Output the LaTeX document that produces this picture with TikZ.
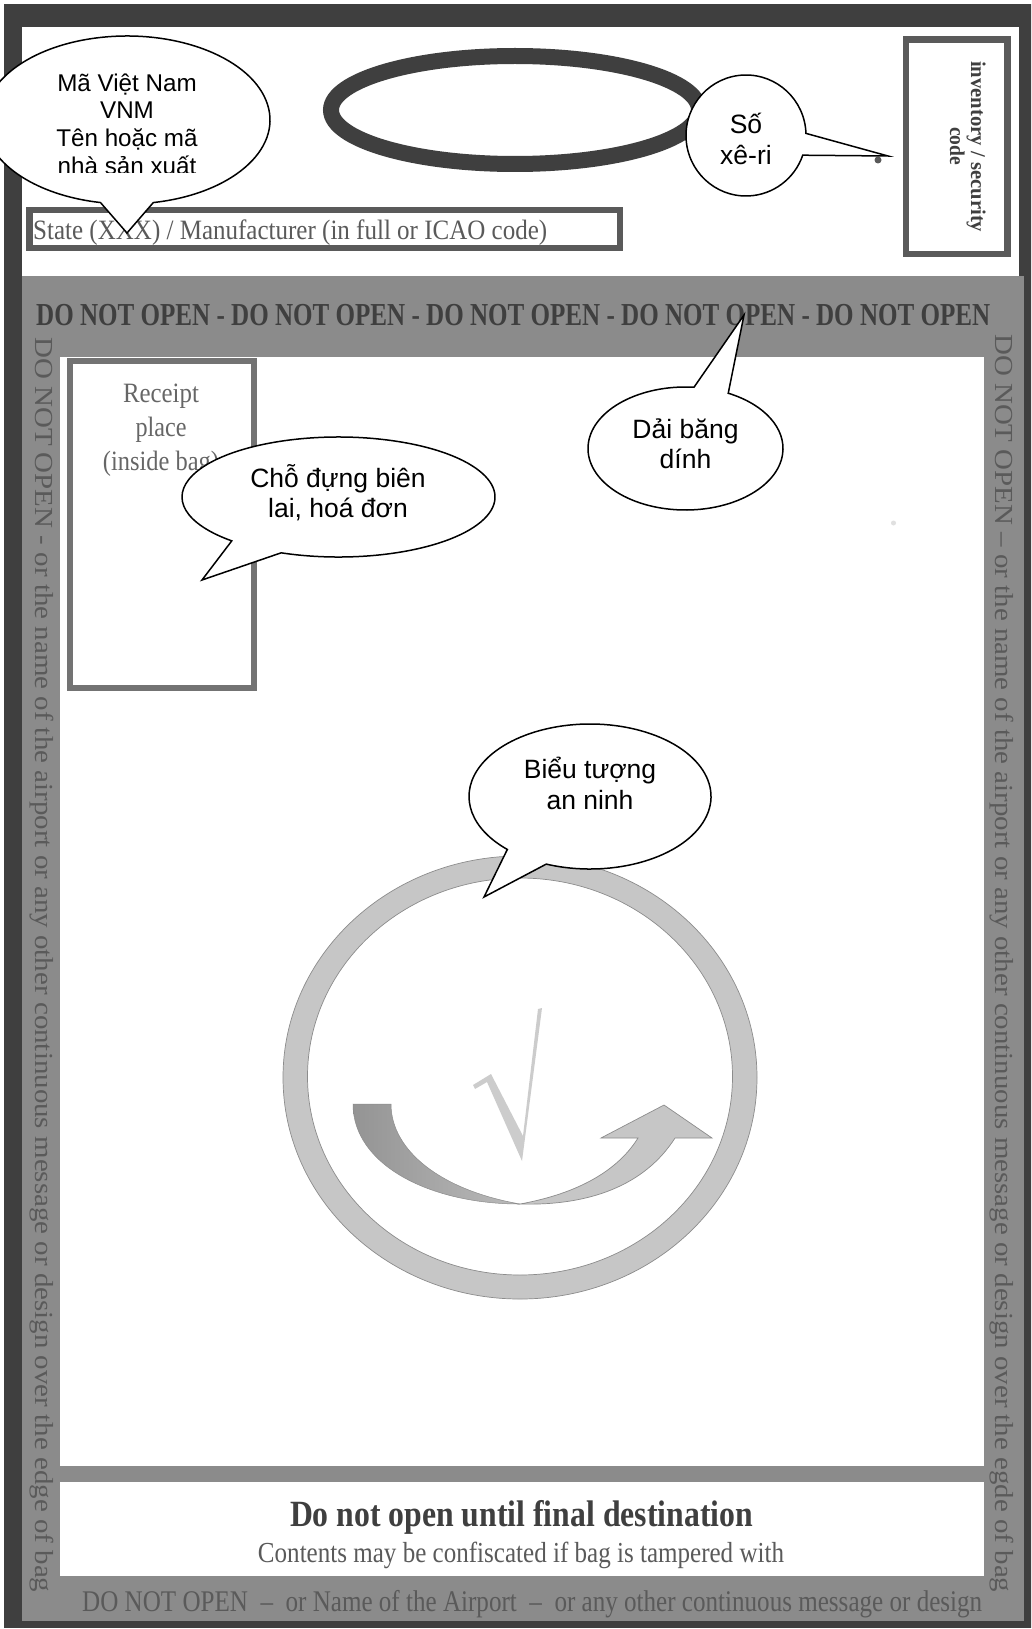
\documentclass[tikz,border=0pt]{standalone}
\usepackage{fontspec}
\setmainfont{Liberation Serif}
\newfontfamily\callfont{Liberation Sans}
\definecolor{frame}{HTML}{3F3F3F}
\definecolor{band}{HTML}{8B8B8B}
\definecolor{boxline}{HTML}{5A5A5A}
\definecolor{ringfill}{HTML}{C6C6C6}
\definecolor{ringline}{HTML}{8C8C8C}
\newcommand{\fitw}[3]{\resizebox{#1pt}{\height}{\fontsize{#2}{#2}\selectfont #3}}
\newcommand{\speech}[9]{%
  \coordinate (#1-c) at (#2,#3);%
  \coordinate (#1-tip) at (#8,#9);%
  \draw[bubble] ([shift={(#6:#4 and #5)}]#1-c) arc[start angle=#6,end angle=#7,x radius=#4,y radius=#5] -- (#1-tip) -- cycle;%
}
\tikzset{
  x=1pt,y=1pt,
  bubble/.style={draw=black,fill=white,line width=1.5pt,line join=miter},
  calltext/.style 2 args={font=\callfont\fontsize{#1}{#2}\selectfont,align=center,inner sep=0pt,text=black},
  serif/.style={inner sep=0pt,anchor=base west,text=#1},
  rserif/.style={inner sep=0pt,anchor=base west,rotate=-90,text=#1},
  cserif/.style={inner sep=0pt,anchor=base,text=#1},
  whitepanel/.style={fill=white,draw=none},
  ringpart/.style={fill=ringfill,draw=ringline,line width=0.7pt},
}
\begin{document}%
\begin{tikzpicture}
\useasboundingbox (0,-1629) rectangle (1031,0);
\clip (0,-1629) rectangle (1031,0);
\fill[white] (0,-1629) rectangle (1033,0);
% dark frame
\fill[frame] (4,-1628) rectangle (1033,-4);
\fill[whitepanel] (22,-276) rectangle (1019,-27);
% grey band
\fill[band] (22,-1621) rectangle (1024,-276);
\fill[whitepanel] (60,-1466) rectangle (984,-357);
\fill[whitepanel] (60,-1576) rectangle (984,-1482);
% top ellipse
\draw[frame,line width=16pt] (515,-110) ellipse [x radius=184,y radius=54];
% manufacturer box
\draw[boxline,line width=6.5pt,fill=white] (29.5,-248) rectangle (620,-210);
\node[serif=boxline] (state) at (33,-240) {\fitw{514}{28}{State (XXX) / Manufacturer (in full or ICAO code)}};
% inventory box
\draw[boxline,line width=6.5pt,fill=white] (906,-254) rectangle (1007.5,-39.5);
\node[rserif=frame] (inv1) at (971,-61) {\fitw{171}{21}{\bfseries inventory / security}};
\node[rserif=frame] (inv2) at (950,-127) {\fitw{38}{21}{\bfseries code}};
\fill[boxline] (878,-160) circle [radius=3.5];
\fill[black!12] (893.5,-523) circle [radius=2.5];
% band texts
\node[serif=frame] (bandtop) at (36,-325) {\fitw{954}{32}{\bfseries DO NOT OPEN - DO NOT OPEN - DO NOT OPEN - DO NOT OPEN - DO NOT OPEN}};
\node[rserif=boxline] (bandleft) at (35,-337) {\fitw{1255}{26}{DO NOT OPEN - or the name of the airport or any other continuous message or design over the edge of bag}};
\node[rserif=boxline] (bandright) at (995,-334) {\fitw{1258}{26}{DO NOT OPEN -- or the name of the airport or any other continuous message or design over the egde of bag}};
\node[serif=boxline] (bandbottom) at (82,-1611) {\fitw{900}{30}{DO NOT OPEN\ \ --\ \ or Name of the Airport\ \ --\ \ or any other continuous message or design}};
\node[cserif=frame] (final) at (521.5,-1526) {\fitw{463}{37}{\bfseries Do not open until final destination}};
\node[cserif=boxline] (contents) at (521,-1562) {\fitw{526}{29}{Contents may be confiscated if bag is tampered with}};
% receipt box
\draw[black!55,line width=6pt,fill=white] (70,-688) rectangle (254,-361);
\node[cserif=black!60] (rc1) at (161,-402) {\fitw{76}{28}{Receipt}};
\node[cserif=black!60] (rc2) at (161,-436) {\fitw{51}{28}{place}};
\node[cserif=black!60] (rc3) at (161,-470) {\fitw{116}{28}{(inside bag)}};
% security symbol ring
\path[ringpart,even odd rule] (520,-1077.5) ellipse [x radius=237,y radius=221.5] (520,-1076.5) ellipse [x radius=212.5,y radius=198.5];
% tick
\fill[black!20] (473,-1085) -- (491,-1074) -- (523,-1136) -- (538,-1009) -- (542,-1008) -- (522,-1161) -- (487,-1082) -- (475,-1089) -- cycle;
% left crescent
\path[left color=black!42,right color=black!27,draw=black!45,line width=0.5pt] (353,-1104) -- (391,-1104) .. controls (391,-1150) and (440,-1190) .. (520,-1204) .. controls (430,-1204) and (353,-1165) .. (353,-1104) -- cycle;
% right arrow
\path[ringpart] (520,-1204) .. controls (590,-1206) and (645,-1185) .. (675,-1138) -- (712,-1138) -- (664,-1105) -- (601,-1138) -- (638,-1138) .. controls (615,-1175) and (570,-1195) .. (520,-1204) -- cycle;
% callouts
\speech{maviet}{127}{-120}{143}{84}{-79.4}{259.3}{127}{-233}
\begin{scope}
\clip (0,-172.5) rectangle (270,-40);
\node[calltext={24.2}{27.7}] (maviettext) at (127,-124) {Mã Việt Nam\\VNM\\Tên hoặc mã\\nhà sản xuất};
\end{scope}
\speech{seri}{746}{-135.5}{60}{60.5}{2}{341}{888}{-156}
\node[calltext={26.5}{31.5}] (seritext) at (746,-139) {Số\\xê-ri};
\speech{bang}{685.5}{-448.5}{97.5}{61.5}{85}{424}{744}{-315}
\node[calltext={26.5}{30}] (bangtext) at (685.5,-444) {Dải băng\\dính};
\speech{cho}{338.5}{-497}{156.5}{60}{248.5}{587}{202}{-580}
\node[calltext={26.5}{30}] (chotext) at (338,-493) {Chỗ đựng biên\\lai, hoá đơn};
\speech{bieu}{590}{-796.5}{121}{72.5}{248.8}{586.9}{484}{-897}
\node[calltext={26.5}{31}] (bieutext) at (590,-783) {Biểu tượng\\an ninh};
\end{tikzpicture}%
\end{document}
